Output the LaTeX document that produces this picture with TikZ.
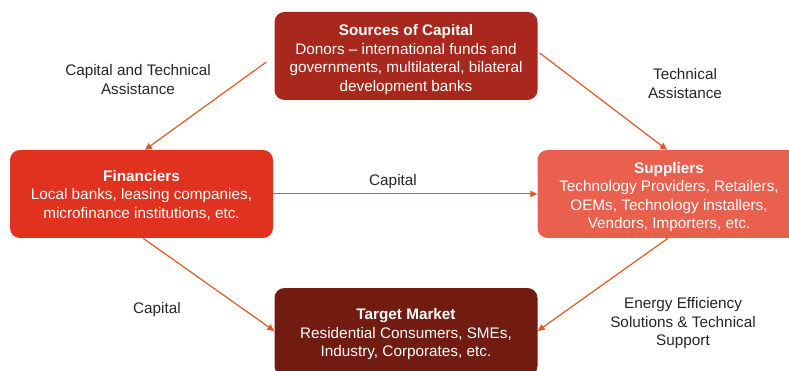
\documentclass[tikz,border=0pt]{standalone}
\usepackage{fontspec}
\setmainfont{Liberation Sans}
\usetikzlibrary{arrows.meta,calc}
\definecolor{srcred}{HTML}{A8281D}
\definecolor{finred}{HTML}{E0321F}
\definecolor{supred}{HTML}{E9604F}
\definecolor{mktred}{HTML}{721B11}
\definecolor{flowc}{HTML}{DC5A26}
\definecolor{ink}{HTML}{262626}
\newcommand{\lift}[1]{\rule{0pt}{#1}}
\tikzset{
  box/.style={rounded corners=10pt, draw=none, text=white, align=center, minimum width=263pt, minimum height=88pt,
    font=\fontsize{15.3}{18.5}\selectfont, inner sep=4pt},
  lab/.style={font=\fontsize{15.3}{18.5}\selectfont, text=ink, align=center, inner sep=0pt},
  flow/.style={-{Triangle[length=7pt,width=6.5pt]}, draw=flowc, line width=1.2pt},
}
\begin{document}
\begin{tikzpicture}[x=1pt, y=-1pt]
    \clip (0,0) rectangle (789,371);
    \fill[white] (0,0) rectangle (789,371);
    \node[box, fill=srcred] (src) at (406,56) {\lift{18pt}\textbf{Sources of Capital}\\Donors -- international funds and\\governments, multilateral, bilateral\\development banks};
    \node[box, fill=finred] (fin) at (141.5,194) {\lift{13pt}\textbf{Financiers}\\Local banks, leasing companies,\\microfinance institutions, etc.};
    \node[box, fill=supred] (sup) at (669,194) {\lift{17pt}\textbf{Suppliers}\\Technology Providers, Retailers,\\OEMs, Technology installers,\\Vendors, Importers, etc.};
    \node[box, fill=mktred] (mkt) at (406,332) {\lift{16pt}\textbf{Target Market}\\Residential Consumers, SMEs,\\Industry, Corporates, etc.};
    % labels
    \node[lab] (ctlab) at (138,79.5) {Capital and Technical\\Assistance};
    \node[lab] (talab) at (685,83.5) {Technical\\Assistance};
    \node[lab] (caplab) at (393,182) {Capital};
    \node[lab] (capdown) at (157,310) {Capital};
    \node[lab] (eelab) at (683,323.5) {Energy Efficiency\\Solutions \& Technical\\Support};
    % flows
    \draw[flow] ([shift={(-8,6)}]src.west) -- ([xshift=3.5pt]fin.north);
    \draw[flow] ([shift={(2,-3)}]src.east) -- ([xshift=-2pt]sup.north);
    \draw[flow, line width=1pt] (fin.east) -- (sup.west);
    \draw[flow] ([xshift=1.5pt]fin.south) -- ([yshift=1pt]mkt.west);
    \draw[flow] ([xshift=-1pt]sup.south) -- ([yshift=1pt]mkt.east);
\end{tikzpicture}
\end{document}
